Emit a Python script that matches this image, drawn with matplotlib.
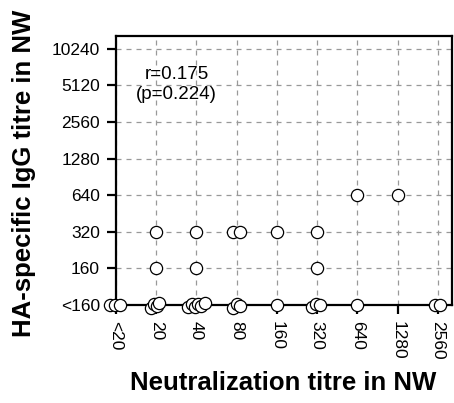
import matplotlib.pyplot as plt
import numpy as np

plt.rcParams['font.family'] = ['Liberation Sans', 'DejaVu Sans']

x_labels = ["<20", "20", "40", "80", "160", "320", "640", "1280", "2560"]
y_labels = ["<160", "160", "320", "640", "1280", "2560", "5120", "10240"]

# neutralization titre category index, with small horizontal jitter
x_pos = [0, 0, 0,
         1, 1, 1, 1,
         2, 2, 2, 2, 2, 2,
         3, 3, 3,
         4,
         5, 5, 5,
         6,
         8, 8,
         1, 1, 2, 2, 3, 3, 4, 5, 5, 6, 7]
x_jit = [-0.15, -0.03, 0.1,
         -0.12, -0.05, 0.02, 0.08,
         -0.2, -0.12, -0.04, 0.04, 0.12, 0.2,
         -0.1, 0.0, 0.08,
         0.0,
         -0.12, -0.02, 0.08,
         0.0,
         -0.08, 0.05,
         0, 0, 0, 0, -0.08, 0.08, 0, 0, 0, 0, 0]
# IgG titre category index
y_pos = [0, 0, 0,
         0, 0, 0, 0,
         0, 0, 0, 0, 0, 0,
         0, 0, 0,
         0,
         0, 0, 0,
         0,
         0, 0,
         1, 2, 1, 2, 2, 2, 2, 1, 2, 3, 3]
y_jit = [0, 0, 0,
         -0.08, 0.03, -0.03, 0.05,
         -0.05, 0.03, -0.06, 0.04, -0.02, 0.05,
         -0.07, 0.03, -0.02,
         0,
         -0.05, 0.03, 0.0,
         0,
         0, 0,
         0, 0, 0, 0, 0, 0, 0, 0, 0, 0, 0]

x = np.array(x_pos) + np.array(x_jit)
y = np.array(y_pos) + np.array(y_jit)

fig = plt.figure(figsize=(4.54, 4.03), dpi=100)
ax = fig.add_axes([0.2555, 0.2432, 0.7401, 0.6675])

ax.set_xlim(0, 8.35)
ax.set_ylim(0, 7.35)
ax.set_xticks(range(len(x_labels)))
ax.set_xticklabels(x_labels, rotation=270)
ax.set_yticks(range(len(y_labels)))
ax.set_yticklabels(y_labels)

ax.grid(True, color='#999999', linestyle=(0, (4, 4)), linewidth=0.9)
ax.set_axisbelow(True)

ax.plot(x, y, 'o', markersize=8.8, markerfacecolor='white',
        markeredgecolor='black', markeredgewidth=0.9, clip_on=False, zorder=5)

for s in ax.spines.values():
    s.set_linewidth(1.6)
ax.tick_params(axis='both', length=6.5, width=1.6, direction='out',
               labelsize=12.5, pad=5)

ax.text(0.18, 0.82, "r=0.175\n(p=0.224)", transform=ax.transAxes,
        ha='center', va='center', fontsize=13.5, linespacing=1.25)

fig.text(0.623, 0.05, "Neutralization titre in NW", fontsize=18.5,
         fontweight='bold', ha='center', va='center')
fig.text(0.053, 0.571, "HA-specific IgG titre in NW", fontsize=18.5,
         fontweight='bold', ha='center', va='center', rotation=90)

fig.savefig("out.png", dpi=100)
